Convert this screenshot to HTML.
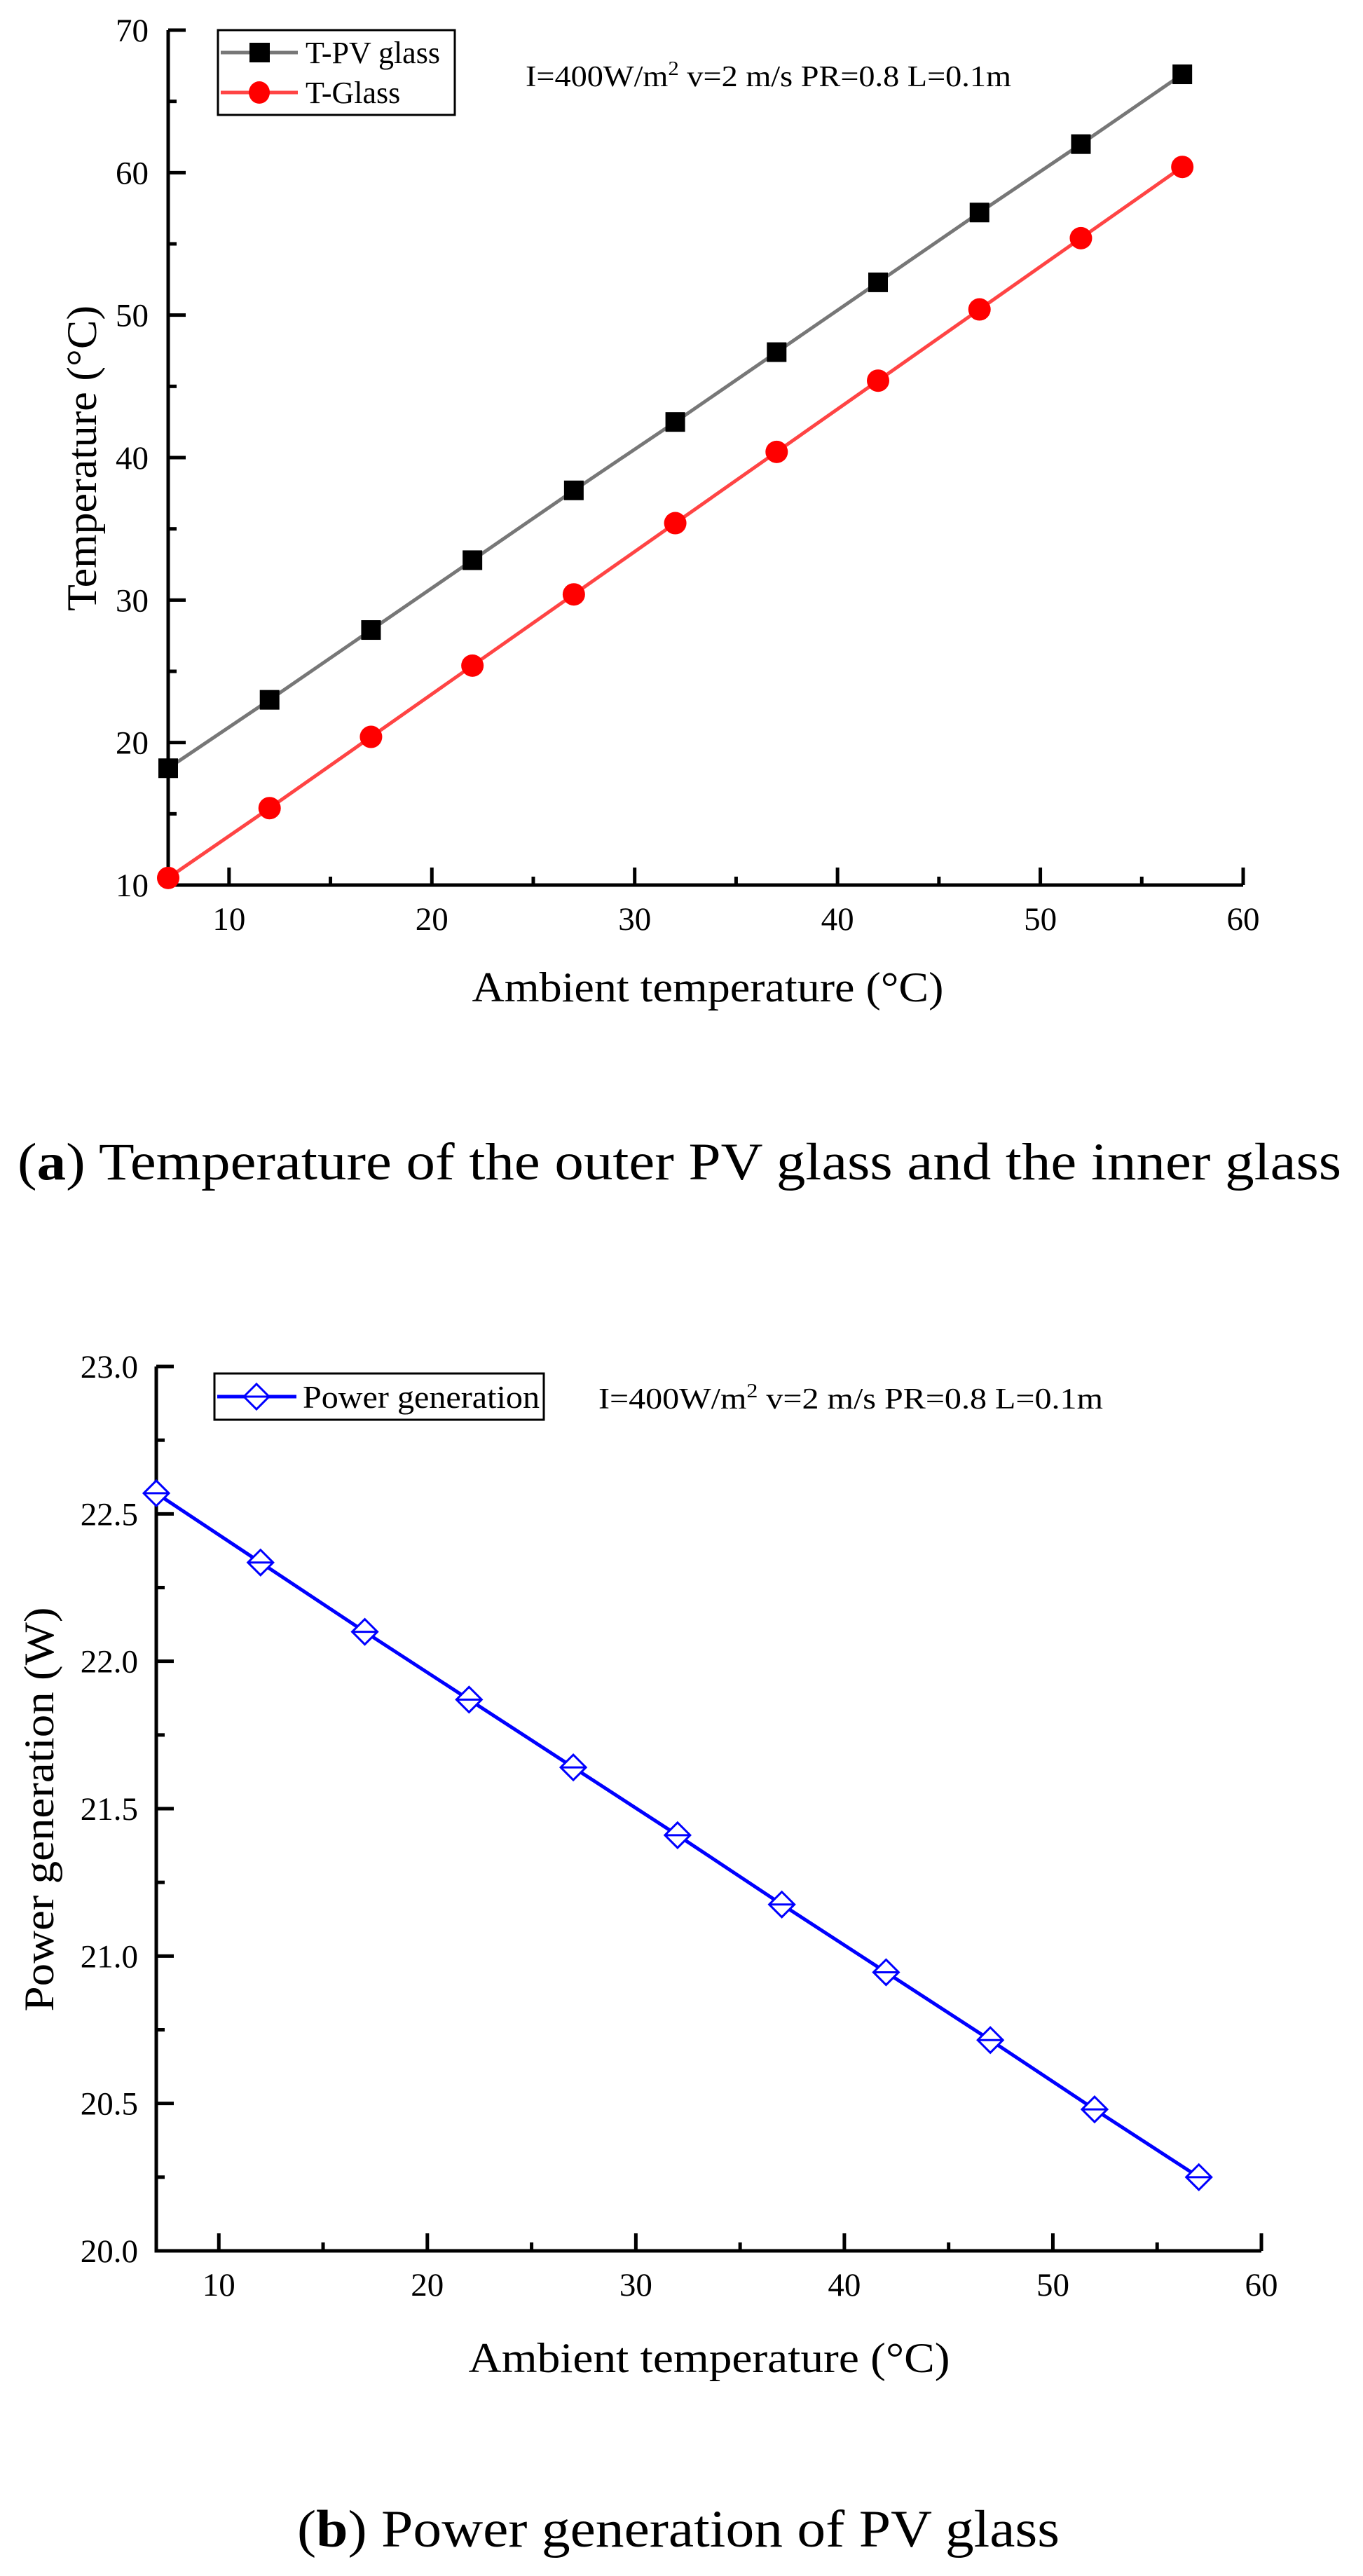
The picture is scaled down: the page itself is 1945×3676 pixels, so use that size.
<!DOCTYPE html>
<html><head><meta charset="utf-8"><style>
html,body{margin:0;padding:0;background:#fff;}
svg{display:block;font-family:"Liberation Serif",serif;}
text,tspan{font-family:"Liberation Serif","DejaVu Serif",serif;}
</style></head><body>
<svg id="fig" width="1945" height="3676" viewBox="0 0 1945 3676" xmlns="http://www.w3.org/2000/svg" font-family="Liberation Serif, serif">
<g id="chartA"></g>
<g id="chartB"></g>
<text x="25" y="1683" font-size="75" textLength="1889" lengthAdjust="spacingAndGlyphs">(<tspan font-weight="bold">a</tspan>) Temperature of the outer PV glass and the inner glass</text>
<text x="424" y="3634" font-size="75" textLength="1088" lengthAdjust="spacingAndGlyphs">(<tspan font-weight="bold">b</tspan>) Power generation of PV glass</text>
</svg>
<script>
const ambientX = [7,12,17,22,27,32,37,42,47,52,57];
const tPvGlass = [18.2,23.0,27.9,32.8,37.7,42.5,47.4,52.3,57.2,62.0,66.9];
const tGlass = [10.5,15.4,20.4,25.4,30.4,35.4,40.4,45.4,50.4,55.4,60.4];
const power = [22.57,22.335,22.10,21.87,21.64,21.41,21.175,20.945,20.715,20.48,20.25];
const xTicks = [10,20,30,40,50,60];
const yTicksA = [10,20,30,40,50,60,70];
const yTicksB = ["20.0","20.5","21.0","21.5","22.0","22.5","23.0"];

const NS="http://www.w3.org/2000/svg";
function mk(parent,tag,attrs,text){const e=document.createElementNS(NS,tag);for(const k in attrs)e.setAttribute(k,attrs[k]);if(text!==undefined)e.textContent=text;parent.appendChild(e);return e;}

function axes(g,o){
  const sx=v=>o.px0+(v-o.xmin)*(o.px1-o.px0)/(o.xmax-o.xmin);
  const sy=v=>o.yBot-(v-o.ymin)*(o.yBot-o.yTop)/(o.ymax-o.ymin);
  const ax=mk(g,'path',{d:`M${sx(o.xmin)},${o.yTop} V${o.yBot} H${sx(o.xmax)}`,fill:'none',stroke:'#000','stroke-width':5});
  
  
  for(let v=10;v<=60;v+=5){
    const major=v%10===0;
    const t=mk(g,'line',{x1:sx(v),x2:sx(v),y1:o.yBot,y2:o.yBot-(major?25:12),stroke:'#000','stroke-width':5});
    
    
  }
  xTicks.forEach(v=>{
    const t=mk(g,'text',{x:sx(v),y:o.yBot+64,'font-size':47,'text-anchor':'middle'},String(v));
    
    
  });
  const n=o.minorCount;
  for(let i=0;i<=n;i++){
    const v=o.ymin+i*(o.ymax-o.ymin)/n;
    const major=i%2===0;
    const t=mk(g,'line',{x1:sx(o.xmin),x2:sx(o.xmin)+(major?25:12),y1:sy(v),y2:sy(v),stroke:'#000','stroke-width':5});
    
    
  }
  o.yLabels.forEach(l=>{
    const t=mk(g,'text',{x:o.yLabelRight,y:sy(parseFloat(l))+16,'font-size':47,'text-anchor':'end'},l);
    
    
  });
  return {sx,sy};
}

(function(){
  const g=document.getElementById('chartA');
  const {sx,sy}=axes(g,{px0:240,px1:1774,xmin:7,xmax:60,yTop:43,yBot:1263,ymin:10,ymax:70,minorCount:12,yLabels:yTicksA.map(String),yLabelRight:212});
  const t1=mk(g,'text',{x:1010,y:1429,'font-size':60,'text-anchor':'middle',textLength:673,lengthAdjust:'spacingAndGlyphs'},'Ambient temperature (°C)');
  
  
  const t2=mk(g,'text',{x:0,y:0,'font-size':60,'text-anchor':'middle',transform:'translate(137,654) rotate(-90)',textLength:436,lengthAdjust:'spacingAndGlyphs'},'Temperature (°C)');
  
  
  const l1=mk(g,'polyline',{points:ambientX.map((x,i)=>sx(x)+','+sy(tPvGlass[i])).join(' '),fill:'none',stroke:'#777','stroke-width':5});
  
  
  const l2=mk(g,'polyline',{points:ambientX.map((x,i)=>sx(x)+','+sy(tGlass[i])).join(' '),fill:'none',stroke:'#ff4444','stroke-width':5});
  
  
  ambientX.forEach((x,i)=>{
    const m=mk(g,'rect',{x:sx(x)-14,y:sy(tPvGlass[i])-14,width:28,height:28,fill:'#000'});
    
    
    const c=mk(g,'circle',{cx:sx(x),cy:sy(tGlass[i]),r:16,fill:'#ff0000'});
    
    
  });
  const lg=mk(g,'g',{});
  
  
  mk(lg,'rect',{x:311,y:43,width:338,height:121,fill:'#fff',stroke:'#000','stroke-width':3});
  mk(lg,'line',{x1:315,x2:425,y1:75,y2:75,stroke:'#777','stroke-width':5});
  mk(lg,'rect',{x:356,y:61,width:29,height:28,fill:'#000'});
  const e1=mk(lg,'text',{x:436,y:90,'font-size':44},'T-PV glass');
  
  
  mk(lg,'line',{x1:315,x2:425,y1:132,y2:132,stroke:'#ff4444','stroke-width':5});
  mk(lg,'ellipse',{cx:370,cy:132,rx:15,ry:16,fill:'#ff0000'});
  const e2=mk(lg,'text',{x:436,y:147,'font-size':44},'T-Glass');
  
  
  const an=mk(g,'text',{x:750,y:123,'font-size':42,textLength:693,lengthAdjust:'spacingAndGlyphs'});
  
  
  an.innerHTML='I=400W/m<tspan font-size="28" dy="-16">2</tspan><tspan dy="16"> v=2 m/s PR=0.8 L=0.1m</tspan>';
})();

(function(){
  const g=document.getElementById('chartB');
  const {sx,sy}=axes(g,{px0:223,px1:1800,xmin:7,xmax:60,yTop:1950,yBot:3212,ymin:20,ymax:23,minorCount:12,yLabels:yTicksB,yLabelRight:197});
  const t1=mk(g,'text',{x:1012,y:3385,'font-size':60,'text-anchor':'middle',textLength:687,lengthAdjust:'spacingAndGlyphs'},'Ambient temperature (°C)');
  
  
  const t2=mk(g,'text',{x:0,y:0,'font-size':60,'text-anchor':'middle',transform:'translate(76,2582) rotate(-90)',textLength:577,lengthAdjust:'spacingAndGlyphs'},'Power generation (W)');
  
  
  const l=mk(g,'polyline',{points:ambientX.map((x,i)=>sx(x)+','+sy(power[i])).join(' '),fill:'none',stroke:'#0000ff','stroke-width':5});
  
  
  ambientX.forEach((x,i)=>{
    const cx=sx(x),cy=sy(power[i]);
    const d=mk(g,'path',{d:`M${cx-18},${cy} L${cx},${cy-18} L${cx+18},${cy} L${cx},${cy+18} Z M${cx-18},${cy} H${cx+18}`,fill:'#fff',stroke:'#0000ff','stroke-width':3});
    
    
  });
  const lg=mk(g,'g',{});
  
  
  mk(lg,'rect',{x:306,y:1960,width:470,height:66,fill:'#fff',stroke:'#000','stroke-width':3});
  mk(lg,'line',{x1:310,x2:423,y1:1993,y2:1993,stroke:'#0000ff','stroke-width':5});
  mk(lg,'path',{d:'M348,1993 L366,1975 L384,1993 L366,2011 Z M348,1993 H384',fill:'#fff',stroke:'#0000ff','stroke-width':3});
  const e=mk(lg,'text',{x:432,y:2009,'font-size':46,textLength:338,lengthAdjust:'spacingAndGlyphs'},'Power generation');
  
  
  const an=mk(g,'text',{x:854,y:2010,'font-size':42,textLength:720,lengthAdjust:'spacingAndGlyphs'});
  
  
  an.innerHTML='I=400W/m<tspan font-size="28" dy="-16">2</tspan><tspan dy="16"> v=2 m/s PR=0.8 L=0.1m</tspan>';
})();
</script>
</body></html>
